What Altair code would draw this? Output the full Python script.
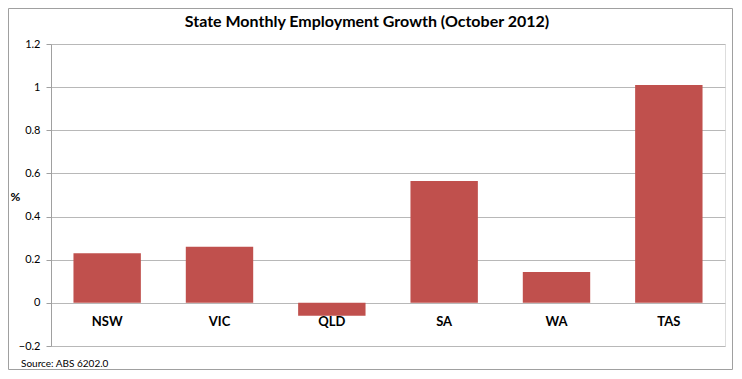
import altair as alt
import pandas as pd

states = ["NSW", "VIC", "QLD", "SA", "WA", "TAS"]
growth = [0.23, 0.26, -0.06, 0.565, 0.143, 1.01]
y_ticks = [-0.2, 0, 0.2, 0.4, 0.6, 0.8, 1.0, 1.2]
title_text = "State Monthly Employment Growth (October 2012)"
source_text = "Source: ABS 6202.0"

df = pd.DataFrame({"state": states, "growth": growth, "zero": [0] * len(states)})
one = pd.DataFrame({"title": [title_text], "source": [source_text]})

W, H = 674, 302
FONT = "Lato"

x_enc = alt.X("state:N", sort=states, title=None, axis=None,
              scale=alt.Scale(paddingInner=0.4, paddingOuter=0.2))
y_scale = alt.Scale(domain=[-0.2, 1.2], nice=False)

base = alt.Chart(df)
single = alt.Chart(one)

frame = single.mark_rect(fillOpacity=0, stroke="#a0a0a0", strokeWidth=1).encode(
    x=alt.value(-42.5), x2=alt.value(W + 7.5), y=alt.value(-35.5), y2=alt.value(H + 23.5)
)

bars = base.mark_bar(color="#C0504D").encode(
    x=x_enc,
    y=alt.Y("growth:Q", scale=y_scale,
            axis=alt.Axis(values=y_ticks, title="%", titleAngle=0, titleFontWeight="bold",
                          titleFontSize=12, titleX=-36, titleY=H / 2 + 8, titleFont=FONT,
                          labelFont=FONT, labelFontSize=11, labelColor="#000",
                          labelPadding=6, tickSize=5, tickColor="#a0a0a0",
                          domainColor="#a0a0a0", gridColor="#b8b8b8",
                          labelExpr="datum.value == 0 ? '0' : format(datum.value, '.1~f')")),
    y2=alt.Y2("zero:Q"),
)

labels = base.mark_text(font=FONT, fontSize=13, fontWeight="bold", dy=19, color="#000").encode(
    x=x_enc,
    y=alt.Y("zero:Q", scale=y_scale),
    text="state:N",
)

title = single.mark_text(font=FONT, fontSize=16, fontWeight="bold", color="#000").encode(
    x=alt.value(316), y=alt.value(-22), text="title:N"
)

source = single.mark_text(font=FONT, fontSize=10, align="left", color="#000").encode(
    x=alt.value(-30), y=alt.value(H + 18), text="source:N"
)

chart = alt.layer(frame, bars, labels, title, source).properties(
    width=W, height=H,
    autosize=alt.AutoSizeParams(type="none"),
    padding={"left": 43, "top": 36, "right": 9, "bottom": 24},
).configure_view(stroke=None).configure(background="white")

chart.save("out.html", embed_options={"renderer": "svg", "actions": False})
